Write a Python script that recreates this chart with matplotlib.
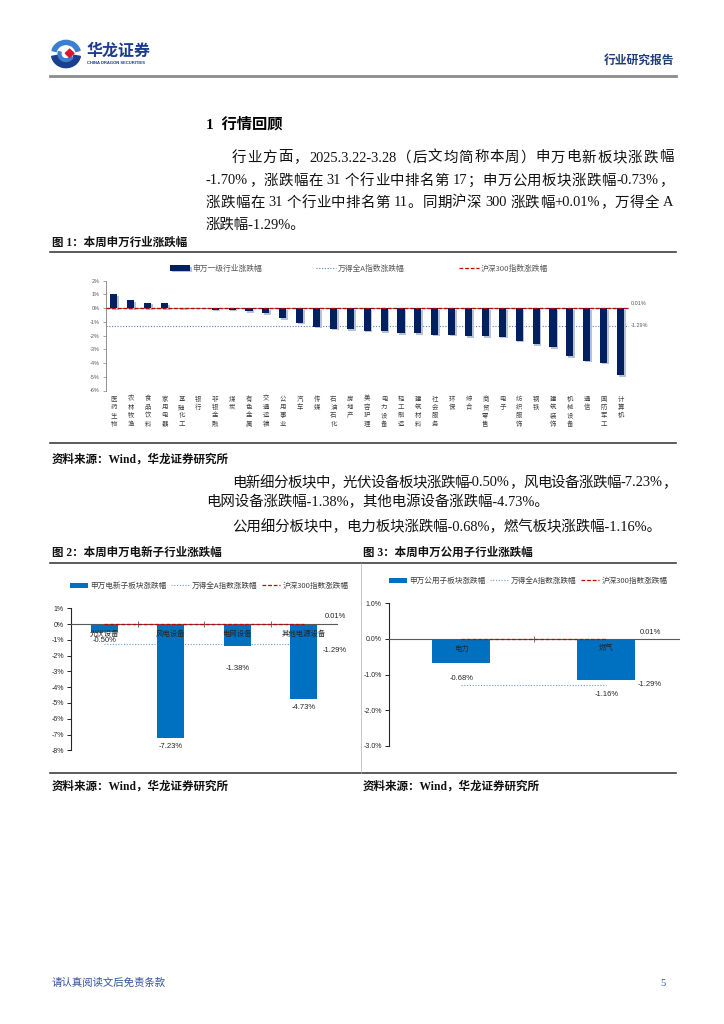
import numpy as np
import matplotlib
matplotlib.use("Agg")
import matplotlib.pyplot as plt
import matplotlib.patheffects as pe
from matplotlib.patches import Wedge, Polygon
from matplotlib.lines import Line2D

W, H = 724, 1024

# ---- data ----
sw_industries = ["医药生物", "农林牧渔", "食品饮料", "家用电器", "基础化工", "银行",
                 "非银金融", "煤炭", "有色金属", "交通运输", "公用事业", "汽车",
                 "传媒", "石油石化", "房地产", "美容护理", "电力设备", "轻工制造",
                 "建筑材料", "社会服务", "环保", "综合", "商贸零售", "电子",
                 "纺织服饰", "钢铁", "建筑装饰", "机械设备", "通信", "国防军工", "计算机"]
sw_changes = [1.02, 0.56, 0.41, 0.37, 0.04, 0.01, -0.10, -0.11, -0.22, -0.37,
              -0.73, -1.05, -1.36, -1.50, -1.51, -1.63, -1.70, -1.80, -1.82, -1.93,
              -1.94, -2.02, -2.03, -2.07, -2.36, -2.60, -2.82, -3.50, -3.82, -3.97, -4.87]

hs300 = 0.01
wind_a = -1.29

elec_sub = ["光伏设备", "风电设备", "电网设备", "其他电源设备"]
elec_changes = [-0.50, -7.23, -1.38, -4.73]

util_sub = ["电力", "燃气"]
util_changes = [-0.68, -1.16]

SANS = ["Liberation Sans", "Noto Sans CJK SC"]
SERIF = ["Liberation Serif", "Noto Sans CJK SC"]
plt.rcParams["font.family"] = SANS

fig = plt.figure(figsize=(W / 100, H / 100), dpi=100)


def rect(x0, y0, x1, y1):
    return [x0 / W, 1 - y1 / H, (x1 - x0) / W, (y1 - y0) / H]


def put(x, y, s, **kw):
    kw.setdefault("va", "center")
    return fig.text(x / W, 1 - y / H, s, **kw)


def hline(y, x0=50, x1=676, **kw):
    fig.add_artist(Line2D([x0 / W, x1 / W], [1 - y / H, 1 - y / H], **kw))


def tokens(s):
    # ascii runs (with their spaces) stay together, cjk chars are single tokens
    out, buf = [], ""
    for ch in s:
        if ord(ch) < 128:
            buf += ch
        else:
            if buf:
                out.append(buf)
                buf = ""
            out.append(ch)
    if buf:
        out.append(buf)
    return out


def justify(x0, x1, y, s, **kw):
    r = fig.canvas.get_renderer()
    sp = kw.get("fontsize", 10) * 100 / 72 * 0.25
    toks = tokens(s)
    parts = []
    for t in toks:
        core = t.strip(" ")
        lead = len(t) - len(t.lstrip(" "))
        trail = len(t) - len(t.rstrip(" "))
        tt = fig.text(0, 0, core, **kw)
        w = tt.get_window_extent(r).width
        tt.remove()
        parts.append((core, lead * sp, w + (lead + trail) * sp))
    gap = (x1 - x0 - sum(p[2] for p in parts)) / max(len(parts) - 1, 1)
    x = x0
    for core, lead, w in parts:
        put(x + lead, y, core, **kw)
        x += w + gap


# ---- page header ----
lax = fig.add_axes(rect(50, 39, 82, 69))
lax.set_xlim(-1.1, 1.1)
lax.set_ylim(-1.1, 1.1)
lax.axis("off")
lax.add_patch(Wedge((0, 0), 1.0, 190, 350, width=0.45, color="#1B3F8F"))
lax.add_patch(Wedge((0, 0), 1.0, 15, 165, width=0.3, color="#3C7FD0"))
lax.add_patch(Wedge((0, 0), 0.55, 160, 330, width=0.2, color="#3C7FD0"))
lax.add_patch(Polygon([[0.25, 0.35], [0.55, 0.05], [0.25, -0.25], [-0.05, 0.05]],
                      closed=True, color="#D7192D"))

put(87, 51, "华龙证券", fontsize=11.5, fontweight="bold", color="#1A3C8C",
    family=["Noto Sans CJK SC"])
put(87, 63, "CHINA DRAGON SECURITIES", fontsize=3, fontweight="bold", color="#1A3C8C")
put(674, 60, "行业研究报告", fontsize=8.5, fontweight="bold", color="#1F3D7A",
    ha="right", family=["Noto Sans CJK SC"])
hline(76, lw=2, color="#8C8C8C")

# ---- section text ----
put(206, 124, "1  行情回顾", fontsize=11, fontweight="bold", family=SERIF)
body = dict(fontsize=10.4, family=SERIF, color="#111111")
justify(232, 673, 158, "行业方面，2025.3.22-3.28（后文均简称本周）申万电新板块涨跌幅", **body)
justify(206, 673, 181, "-1.70%，涨跌幅在 31 个行业中排名第 17；申万公用板块涨跌幅-0.73%，", **body)
justify(206, 673, 203, "涨跌幅在 31 个行业中排名第 11。同期沪深 300 涨跌幅+0.01%，万得全 A", **body)
put(206, 225, "涨跌幅-1.29%。", **body)

cap = dict(fontsize=8.3, fontweight="bold", family=SERIF, color="#111111")
put(52, 243, "图 1：本周申万行业涨跌幅", **cap)
hline(252, lw=1.2, color="#404040")
hline(443, lw=1.2, color="#404040")
put(52, 460, "资料来源：Wind，华龙证券研究所", **cap)

justify(232, 676, 483, "电新细分板块中，光伏设备板块涨跌幅-0.50%，风电设备涨跌幅-7.23%，", **body)
put(206, 502, "电网设备涨跌幅-1.38%，其他电源设备涨跌幅-4.73%。", **body)
put(232, 527, "公用细分板块中，电力板块涨跌幅-0.68%，燃气板块涨跌幅-1.16%。", **body)

put(52, 553, "图 2：本周申万电新子行业涨跌幅", **cap)
put(363, 553, "图 3：本周申万公用子行业涨跌幅", **cap)
hline(563, lw=1.2, color="#404040")
hline(773, lw=1.2, color="#404040")
fig.add_artist(Line2D([361 / W, 361 / W], [1 - 563 / H, 1 - 773 / H], lw=0.5, color="#B0B0B0"))
put(52, 787, "资料来源：Wind，华龙证券研究所", **cap)
put(363, 787, "资料来源：Wind，华龙证券研究所", **cap)

put(52, 983, "请认真阅读文后免责条款", fontsize=7.5, color="#3552A0", family=SERIF)
put(666, 983, "5", fontsize=7.5, color="#3552A0", family=SERIF, ha="right")

# ---- figure 1 ----
ax1 = fig.add_axes(rect(105.5, 280.7, 629, 390.5))
x1 = np.arange(len(sw_industries))
bars1 = ax1.bar(x1, sw_changes, width=0.42, color="#002060", zorder=3)
for b in bars1:
    b.set_path_effects([pe.withSimplePatchShadow(offset=(1.2, -1.2), shadow_rgbFace="#B7C2D6", alpha=1),
                        pe.Normal()])
ax1.axhline(0, color="#808080", lw=0.8, zorder=2)
la1 = ax1.axhline(wind_a, color="#4F81BD", lw=0.8, ls=(0, (1, 1.5)), zorder=2)
lh1 = ax1.axhline(hs300, color="#C00000", lw=0.9, ls=(0, (3, 1.5)), zorder=4)
ax1.set_xlim(-0.5, len(sw_industries) - 0.5)
ax1.set_ylim(-6, 2)
yt = list(range(-6, 3))
ax1.set_yticks(yt, [f"{v}%" for v in yt])
ax1.set_xticks(x1, ["\n".join(s) for s in sw_industries])
for s in ["top", "right", "bottom"]:
    ax1.spines[s].set_visible(False)
ax1.spines["left"].set_color("#7F7F7F")
ax1.spines["left"].set_linewidth(0.6)
ax1.tick_params(axis="x", length=0, pad=3, labelsize=4.6, labelcolor="#404040")
for t in ax1.get_xticklabels():
    t.set_linespacing(1.05)
    t.set_family(["Noto Sans CJK SC"])
ax1.tick_params(axis="y", length=2, width=0.5, color="#7F7F7F", labelsize=4,
                labelcolor="#595959", pad=2)
small_gray = dict(fontsize=4, color="#595959")
ax1.annotate(f"{hs300:.2f}%", xy=(1, hs300), xycoords=("axes fraction", "data"),
             xytext=(1, 3), textcoords="offset points", ha="left", va="center", **small_gray)
ax1.annotate(f"{wind_a:.2f}%", xy=(1, wind_a), xycoords=("axes fraction", "data"),
             xytext=(1, 0), textcoords="offset points", ha="left", va="center", **small_gray)
ax1.legend([bars1, la1, lh1], ["申万一级行业涨跌幅", "万得全A指数涨跌幅", "沪深300指数涨跌幅"],
           ncol=3, loc="lower center", bbox_to_anchor=(0.485, 1.01), frameon=False,
           labelcolor="#595959", handlelength=2.5, handletextpad=0.3,
           columnspacing=7, prop={"family": ["Noto Sans CJK SC"], "size": 5.6})


def sub_chart(ax, names, values, ylim, yfmt, lbl_off, cat_off, line_x, legend_label, legend_x, right_lbl):
    n = len(names)
    xs = np.arange(n)
    la = ax.plot([0, n - 1], [wind_a, wind_a], color="#6C9BD2", lw=0.8, ls=(0, (1, 1.5)), zorder=1)[0]
    bars = ax.bar(xs, values, width=0.4, color="#0070C0", zorder=2)
    lh = ax.plot([0, n - 1], [hs300, hs300], color="#C00000", lw=0.9, ls=(0, (3, 1.5)), zorder=4)[0]
    ax.set_xlim(-0.5, n - 0.5)
    ax.set_ylim(*ylim)
    ticks = np.arange(ylim[0], ylim[1] + 0.001, 1)
    ax.set_yticks(ticks, [yfmt.format(v) for v in ticks])
    ax.set_xticks(np.arange(n - 1) + 0.5, [""] * (n - 1))
    for s in ["top", "right"]:
        ax.spines[s].set_visible(False)
    ax.spines["bottom"].set_position(("data", 0))
    ax.spines["bottom"].set_color("#595959")
    ax.spines["bottom"].set_linewidth(0.8)
    ax.spines["left"].set_color("#262626")
    ax.spines["left"].set_linewidth(0.8)
    ax.tick_params(axis="x", direction="inout", length=4, width=0.6, color="#595959")
    ax.tick_params(axis="y", length=3, width=0.6, labelsize=5, labelcolor="#262626", pad=2)
    for i, (nm, v) in enumerate(zip(names, values)):
        ax.annotate(nm, xy=(i, 0), xytext=(0, -cat_off), textcoords="offset pixels",
                    ha="center", va="center", fontsize=5.3, color="#262626",
                    family=["Noto Sans CJK SC"], zorder=5)
        ax.annotate(f"{v:.2f}%", xy=(i, v), xytext=(0, -lbl_off[i]), textcoords="offset pixels",
                    ha="center", va="center", fontsize=5.5, color="#262626")
    ax.annotate(f"{hs300:.2f}%", xy=(line_x, hs300), xytext=(0, right_lbl[0]),
                textcoords="offset pixels", ha="center", va="center", fontsize=5.5, color="#262626")
    ax.annotate(f"{wind_a:.2f}%", xy=(line_x, wind_a), xytext=(0, right_lbl[1]),
                textcoords="offset pixels", ha="center", va="center", fontsize=5.5, color="#262626")
    ax.legend([bars, la, lh], [legend_label, "万得全A指数涨跌幅", "沪深300指数涨跌幅"],
              ncol=3, loc="lower center", bbox_to_anchor=(legend_x, 1.08), frameon=False,
              handlelength=2.4, handletextpad=0.3, columnspacing=0.6, labelcolor="#404040",
              prop={"family": ["Noto Sans CJK SC"], "size": 5.5})


ax2 = fig.add_axes(rect(71, 608.3, 337, 750.3))
sub_chart(ax2, elec_sub, elec_changes, (-8, 1), "{:.0f}%", [9, 8, 23, 9], 9.5, 3.47,
          "申万电新子板块涨跌幅", 0.52, (7, -6))

ax3 = fig.add_axes(rect(388.7, 603.3, 679, 746))
sub_chart(ax3, util_sub, util_changes, (-3, 1), "{:.1f}%", [15, 14], 9.5, 1.3,
          "申万公用子板块涨跌幅", 0.48, (6, 0))

fig.savefig("out.png", dpi=100)
